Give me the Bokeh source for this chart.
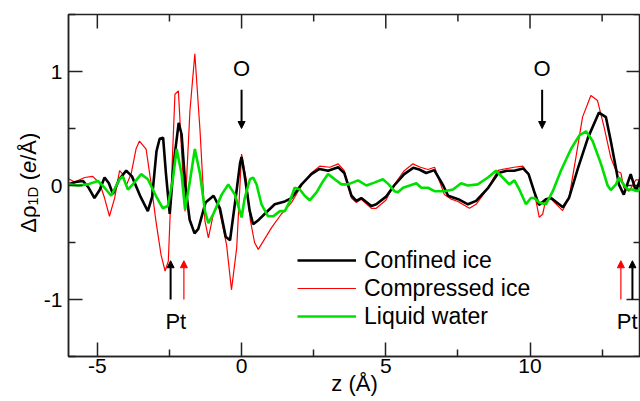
import math
from bokeh.plotting import figure
from bokeh.layouts import row
from bokeh.models import (FixedTicker, Range1d, Label, Arrow, NormalHead, Legend, LegendItem)
from bokeh.embed import file_html
from bokeh.resources import INLINE

# ---------------- data ----------------
z_confined = [-6.0, -5.75, -5.5, -5.3, -5.1, -4.92, -4.75, -4.6, -4.46, -4.25, -4.0, -3.8, -3.5,
              -3.25, -3.1, -2.95, -2.84, -2.72, -2.62, -2.49, -2.35, -2.18, -2.08, -1.95, -1.8,
              -1.63, -1.5, -1.25, -0.97, -0.75, -0.55, -0.4, -0.2, -0.05, 0.0, 0.1, 0.28, 0.4,
              0.6, 0.8, 1.15, 1.5, 1.73, 2.08, 2.42, 2.7, 3.0, 3.35, 3.56, 3.81, 3.98, 4.15, 4.5,
              4.67, 5.0, 5.29, 5.64, 5.95, 6.16, 6.4, 6.68, 6.99, 7.16, 7.51, 7.85, 8.13, 8.55,
              8.9, 9.2, 9.45, 9.76, 9.95, 10.14, 10.31, 10.55, 10.73, 11.14, 11.35, 11.66, 12.01,
              12.39, 12.63, 12.8, 12.98, 13.08, 13.25, 13.49, 13.67, 13.84]
rho_confined = [0.01, 0.03, 0.04, -0.02, -0.11, -0.04, 0.07, 0.02, -0.075, 0.05, 0.13, 0.08, -0.1,
                -0.225, -0.1, 0.3, 0.41, 0.42, 0.1, -0.25, 0.2, 0.55, 0.45, 0.0, -0.3,
                -0.42, -0.38, -0.15, -0.09, -0.2, -0.45, -0.48, -0.1, 0.2, 0.25, 0.1, -0.22, -0.34,
                -0.3, -0.25, -0.165, -0.14, -0.11, 0.01, 0.10, 0.145, 0.13, 0.16, 0.11, -0.09, -0.135,
                -0.11, -0.18, -0.165, -0.1, 0.0, 0.10, 0.155, 0.14, 0.11, 0.135, 0.0, -0.09, -0.12,
                -0.165, -0.135, -0.02, 0.11, 0.13, 0.13, 0.15, 0.1, -0.05, -0.17, -0.12, -0.11,
                -0.19, -0.11, 0.15, 0.42, 0.64, 0.6, 0.39, 0.15, 0.01, -0.08, 0.10, -0.05, 0.07]

z_compressed = [-6.0, -5.79, -5.44, -5.16, -4.92, -4.75, -4.58, -4.4, -4.23, -4.12, -4.0, -3.83,
                -3.66, -3.54, -3.31, -3.15, -2.97, -2.79, -2.65, -2.54, -2.31, -2.19, -2.08, -1.96,
                -1.79, -1.62, -1.44, -1.27, -1.15, -0.98, -0.81, -0.52, -0.35, -0.17, 0.0, 0.17, 0.3,
                0.45, 0.58, 0.75, 1.04, 1.38, 1.73, 2.08, 2.42, 2.71, 3.06, 3.35, 3.56, 3.81, 3.98,
                4.15, 4.5, 4.67, 5.0, 5.3, 5.64, 5.94, 6.2, 6.46, 6.69, 7.03, 7.27, 7.5, 7.9, 8.13,
                8.55, 8.88, 9.0, 9.45, 9.75, 9.95, 10.14, 10.32, 10.44, 10.55, 10.73, 11.13, 11.35,
                11.59, 11.82, 12.11, 12.34, 12.57, 12.8, 12.98, 13.15, 13.25, 13.43, 13.67, 13.84]
rho_compressed = [0.06, 0.03, 0.07, 0.08, 0.02, -0.11, -0.27, -0.11, 0.13, 0.10, 0.0, 0.10,
                  0.32, 0.39, 0.32, 0.04, -0.31, -0.61, -0.75, -0.665, 0.80, 0.83, 0.30, -0.225,
                  0.656, 1.156, 0.48, -0.31, -0.46, -0.254, -0.166, -0.52, -0.915, -0.55, 0.275, 0.04,
                  -0.3, -0.5, -0.56, -0.49, -0.37, -0.25, -0.15, 0.0, 0.11, 0.17, 0.16, 0.19, 0.13,
                  -0.11, -0.15, -0.12, -0.2, -0.2, -0.13, 0.01, 0.13, 0.19, 0.16, 0.14, 0.16, -0.08,
                  -0.12, -0.14, -0.2, -0.165, -0.02, 0.13, 0.14, 0.16, 0.17, 0.1, -0.05, -0.28, -0.25,
                  -0.12, -0.12, -0.22, -0.11, 0.245, 0.60, 0.79, 0.745, 0.51, 0.245, 0.13, 0.11, -0.02,
                  -0.05, 0.05, 0.05]

z_liquid = [-6.0, -5.67, -5.33, -4.98, -4.75, -4.52, -4.23, -4.12, -3.94, -3.77, -3.48, -3.25,
            -2.97, -2.73, -2.56, -2.39, -2.25, -2.08, -1.96, -1.79, -1.62, -1.44, -1.27, -1.15,
            -0.98, -0.69, -0.46, -0.23, 0.0, 0.11, 0.29, 0.4, 0.52, 0.69, 0.92, 1.1, 1.33, 1.5,
            1.67, 1.84, 2.02, 2.19, 2.36, 2.6, 2.83, 3.0, 3.23, 3.46, 3.69, 4.04, 4.33, 4.6, 4.9,
            5.1, 5.3, 5.42, 5.6, 5.83, 6.06, 6.23, 6.46, 6.69, 7.03, 7.33, 7.61, 7.84, 8.19, 8.54,
            8.82, 9.11, 9.28, 9.46, 9.63, 9.86, 10.03, 10.15, 10.32, 10.55, 10.79, 11.07, 11.42,
            11.71, 11.94, 12.17, 12.46, 12.69, 12.8, 12.98, 13.09, 13.2, 13.38, 13.55, 13.73, 13.84]
rho_liquid = [0.01, 0.0, 0.01, 0.04, -0.02, -0.09, 0.055, 0.08, -0.035, 0.01, 0.10, 0.055,
              -0.09, -0.2, -0.18, 0.04, 0.32, 0.10, -0.21, 0.04, 0.32, 0.10, -0.225, -0.33,
              -0.25, -0.08, 0.01, -0.08, -0.28, -0.11, 0.055, 0.07, 0.01, -0.165, -0.27, -0.27,
              -0.225, -0.225, -0.14, -0.02, -0.035, -0.09, -0.13, -0.06, 0.04, 0.10, 0.055, 0.01,
              0.01, 0.045, 0.0, 0.025, 0.055, 0.01, -0.05, -0.06, -0.02, 0.0, 0.02, -0.02, -0.02,
              -0.05, -0.05, -0.035, 0.02, 0.0, 0.01, 0.07, 0.13, 0.055, 0.01, 0.045, -0.035, -0.165,
              -0.11, -0.11, -0.15, -0.165, -0.05, 0.13, 0.32, 0.44, 0.475, 0.39, 0.19, 0.0, -0.04,
              0.01, 0.07, 0.025, -0.035, -0.035, -0.05, -0.02]

series_labels = ["Confined ice", "Compressed ice", "Liquid water"]
x_major = [-5, 0, 5, 10]
x_minor = [-2.5, 2.5, 7.5, 12.5]
y_major = [-1, 0, 1]
y_minor = [-1.5, -0.5, 0.5, 1.5]
x_tick_text = {-5: "-5", 0: "0", 5: "5", 10: "10"}
y_tick_text = {-1: "-1", 0: "0", 1: "1"}

# annotation anchors (data units)
o_sites = [0.0, 10.42]
pt_left = {"black": -2.46, "red": -2.0, "label": -2.28}
pt_right = {"black": 13.55, "red": 13.15, "label": 13.37}

FONT = "Liberation Sans"
X0, X_END = -6.0, 13.83
Y0, Y1 = -1.5, 1.5
LAB_W = 40
AX = "#222222"

p = figure(width=640 - LAB_W, height=401, output_backend="svg", toolbar_location=None,
           x_range=Range1d(X0, X_END), y_range=Range1d(Y0, Y1),
           min_border_left=67 - LAB_W, min_border_right=0, min_border_top=14, min_border_bottom=45)
p.outline_line_color = AX
p.outline_line_width = 1.5
p.xgrid.visible = False
p.ygrid.visible = False

p.xaxis.ticker = FixedTicker(ticks=x_major, minor_ticks=x_minor)
p.yaxis.ticker = FixedTicker(ticks=y_major, minor_ticks=y_minor)
p.xaxis.major_label_overrides = x_tick_text
p.yaxis.major_label_overrides = y_tick_text
for ax in (p.xaxis[0], p.yaxis[0]):
    ax.axis_line_width = 1.5
    ax.axis_line_color = AX
    ax.major_tick_in = 14
    ax.major_tick_out = 0
    ax.minor_tick_in = 7
    ax.minor_tick_out = 0
    ax.major_tick_line_width = 1.5
    ax.minor_tick_line_width = 1.5
    ax.major_tick_line_color = AX
    ax.minor_tick_line_color = AX
    ax.major_label_text_font = FONT
    ax.major_label_text_font_size = "21px"
    ax.major_label_text_color = "black"
p.xaxis.major_label_standoff = 2
p.yaxis.major_label_standoff = 6
p.xaxis.axis_label = "z (Å)"
p.xaxis.axis_label_text_font = FONT
p.xaxis.axis_label_text_font_size = "22px"
p.xaxis.axis_label_text_font_style = "normal"
p.xaxis.axis_label_text_color = "black"
p.xaxis.axis_label_standoff = -5

# mirrored ticks on the top and right frame edges (screen-length rays from the edges)
p.ray(x=x_major, y=[Y1] * len(x_major), length=14, length_units="screen",
      angle=-math.pi / 2, line_color=AX, line_width=1.5)
p.ray(x=x_minor, y=[Y1] * len(x_minor), length=7, length_units="screen",
      angle=-math.pi / 2, line_color=AX, line_width=1.5)
p.ray(x=[X_END] * len(y_major), y=y_major, length=14, length_units="screen",
      angle=math.pi, line_color=AX, line_width=1.5)
p.ray(x=[X_END] * len(y_minor), y=y_minor, length=7, length_units="screen",
      angle=math.pi, line_color=AX, line_width=1.5)

r_comp = p.line(z_compressed, rho_compressed, line_color="#ff0000", line_width=1.2)
r_conf = p.line(z_confined, rho_confined, line_color="black", line_width=2.6)
r_liq = p.line(z_liquid, rho_liquid, line_color="#00e000", line_width=2.6)

legend = Legend(items=[LegendItem(label=series_labels[0], renderers=[r_conf]),
                       LegendItem(label=series_labels[1], renderers=[r_comp]),
                       LegendItem(label=series_labels[2], renderers=[r_liq])],
                location=(229, 26), glyph_width=59, glyph_height=28, label_height=28,
                spacing=0, padding=0, margin=0, label_standoff=8,
                label_text_font=FONT, label_text_font_size="23px", label_text_color="black",
                border_line_color=None, background_fill_alpha=0)
p.add_layout(legend)

# O markers with down arrows
for zo in o_sites:
    p.add_layout(Label(x=zo, y=1.03, text="O", text_align="center", text_baseline="middle",
                       text_font=FONT, text_font_size="22px", text_color="black"))
    p.add_layout(Arrow(end=NormalHead(size=7, fill_color="black", line_color="black"),
                       x_start=zo, y_start=0.84, x_end=zo, y_end=0.50,
                       line_color="black", line_width=2))

# Pt markers with up arrows
for d in (pt_left, pt_right):
    p.add_layout(Arrow(end=NormalHead(size=7, fill_color="black", line_color="black"),
                       x_start=d["black"], y_start=-1.0, x_end=d["black"], y_end=-0.66,
                       line_color="black", line_width=2))
    p.add_layout(Arrow(end=NormalHead(size=7, fill_color="#ff0000", line_color="#ff0000"),
                       x_start=d["red"], y_start=-1.0, x_end=d["red"], y_end=-0.66,
                       line_color="#ff0000", line_width=1.2))
    p.add_layout(Label(x=d["label"], y=-1.19, text="Pt", text_align="center",
                       text_baseline="middle", text_font=FONT, text_font_size="22px",
                       text_color="black"))

# ---- y-axis title Δρ_1D (e/Å) in a narrow companion figure sharing the y range ----
lab = figure(width=LAB_W, height=401, output_backend="svg", toolbar_location=None,
             x_range=Range1d(0, LAB_W), y_range=p.y_range, x_axis_type=None, y_axis_type=None,
             min_border_left=0, min_border_right=0, min_border_top=14, min_border_bottom=45)
lab.outline_line_color = None
ang = math.pi / 2
pieces = [("Δρ", 27.5, -0.414, "22px", "normal"),
          ("1D", 32.0, -0.178, "15px", "normal"),
          ("(", 27.5, 0.045, "22px", "normal"),
          ("e", 27.5, 0.109, "22px", "italic"),
          ("/Å)", 27.5, 0.217, "22px", "normal")]
for txt, cx, sy, fs, st in pieces:
    lab.add_layout(Label(x=cx, y=sy, text=txt, angle=ang, text_align="left",
                         text_baseline="middle", text_font=FONT, text_font_size=fs,
                         text_font_style=st, text_color="black"))

layout = row(lab, p)
open("out.html", "w").write(file_html(layout, INLINE))
